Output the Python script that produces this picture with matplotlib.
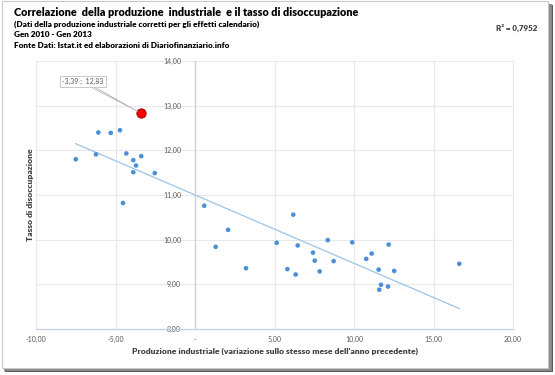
import numpy as np
import matplotlib
matplotlib.use("Agg")
import matplotlib.pyplot as plt
from matplotlib.patches import Rectangle

# ---- data ----
prod_ind = [-7.50, -6.23, -6.08, -5.30, -4.72, -4.32, -3.88, -3.71, -3.88, -3.38,
            -2.53, -4.53, 0.58, 1.30, 2.08, 3.21, 5.14, 5.81, 6.18, 6.33,
            6.46, 7.42, 7.53, 7.84, 8.35, 8.72, 9.89, 10.77, 11.11, 11.55,
            11.70, 11.59, 12.14, 12.18, 12.53, 16.62]
disocc = [11.80, 11.91, 12.40, 12.39, 12.45, 11.93, 11.78, 11.66, 11.51, 11.87,
          11.49, 10.82, 10.76, 9.84, 10.22, 9.36, 9.93, 9.34, 10.56, 9.22,
          9.87, 9.71, 9.53, 9.29, 9.99, 9.52, 9.94, 9.57, 9.69, 9.33,
          8.99, 8.88, 8.95, 9.89, 9.30, 9.46]
last_x = -3.39
last_y = 12.83
last_label = "-3,39 ;  12,83"
r2_label = "R² = 0,7952"

x_ticks = [-10, -5, 0, 5, 10, 15, 20]
x_ticklabels = ["-10,00", "-5,00", "-", "5,00", "10,00", "15,00", "20,00"]
y_ticks = [8, 9, 10, 11, 12, 13, 14]
y_ticklabels = ["8,00", "9,00", "10,00", "11,00", "12,00", "13,00", "14,00"]

title = "Correlazione  della produzione  industriale  e il tasso di disoccupazione"
subtitles = ["(Dati della produzione industriale corretti per gli effetti calendario)",
             "Gen 2010 - Gen 2013",
             "Fonte Dati: Istat.it ed elaborazioni di Diariofinanziario.info"]
xlabel = "Produzione industriale (variazione sullo stesso mese dell'anno precedente)"
ylabel = "Tasso di disoccupazione"

plt.rcParams['font.family'] = ['Lato', 'DejaVu Sans']

W, H = 555, 375
fig = plt.figure(figsize=(W / 100, H / 100), dpi=100)
fig.patch.set_facecolor('white')

def fx(px):
    return px / W

def fy(py):
    return 1 - py / H

# frame with drop shadow
fig.patches.append(Rectangle((fx(5), fy(372)), fx(548), 367 / H, transform=fig.transFigure,
                             facecolor='#5a5a5a', edgecolor='none', zorder=-3))
fig.patches.append(Rectangle((fx(4), fy(371)), fx(548), 367 / H, transform=fig.transFigure,
                             facecolor='#8a8a8a', edgecolor='none', zorder=-2))
fig.patches.append(Rectangle((fx(1.5), fy(368)), fx(546), 367 / H, transform=fig.transFigure,
                             facecolor='white', edgecolor='#c8c8c8', linewidth=0.8, zorder=-1))

left, right, top, bottom = 36, 513, 61, 329
ax = fig.add_axes([fx(left), fy(bottom), fx(right - left), (bottom - top) / H])
ax.set_zorder(1)
ax.set_facecolor('none')
ax.set_xlim(-10, 20)
ax.set_ylim(8, 14)
ax.set_xticks(x_ticks)
ax.set_xticklabels(x_ticklabels)
ax.set_yticks(y_ticks)
ax.set_yticklabels(y_ticklabels)
ax.tick_params(length=0, labelsize=5, labelcolor='#595959')
ax.tick_params(axis='y', pad=10)
ax.tick_params(axis='x', pad=5)
ax.grid(True, color='#e6e8ec', linewidth=0.8)
for g in ax.get_xgridlines() + ax.get_ygridlines():
    g.set_clip_on(False)
ax.set_axisbelow(True)
for s in ['top', 'right']:
    ax.spines[s].set_visible(False)
ax.spines['left'].set_position(('data', 0))
ax.spines['left'].set_color('#c5d0de')
ax.spines['left'].set_linewidth(0.9)
ax.spines['bottom'].set_color('#c5d0de')
ax.spines['bottom'].set_linewidth(0.9)

xs = np.array(prod_ind + [last_x])
ys = np.array(disocc + [last_y])
coef = np.polyfit(xs, ys, 1)
xl = np.array([xs.min(), xs.max()])
ax.plot(xl, np.polyval(coef, xl), color='#9dc3e6', linewidth=0.9, zorder=2)

ax.scatter(prod_ind, disocc, s=11, color='#4a8fd8', edgecolors='none', zorder=3)
ax.scatter([last_x], [last_y], s=45, color='#ff0000', edgecolors='#8b0000',
           linewidths=0.6, zorder=4)
ax.annotate(last_label, xy=(last_x, last_y), xytext=(-7.06, 13.54),
            fontsize=5, color='#595959', ha='center', va='center',
            bbox=dict(boxstyle='square,pad=0.3', fc='white', ec='#c8c8c8', lw=0.7),
            arrowprops=dict(arrowstyle='wedge,tail_width=0.25,shrink_factor=0.5',
                            fc='white', ec='#b5b5b5', lw=0.6, shrinkA=0, shrinkB=3),
            zorder=5)

# texts
fig.text(fx(14), fy(12), title, fontsize=7.8, fontweight='heavy', color='black',
         ha='left', va='center')
for i, s in enumerate(subtitles):
    fig.text(fx(14), fy(24 + 10.5 * i), s, fontsize=5.9, fontweight='heavy',
             color='black', ha='left', va='center')
fig.text(fx(537), fy(28), r2_label, fontsize=5.8, fontweight='heavy', color='#404040',
         ha='right', va='center')
fig.text(fx(31), fy(195), ylabel, fontsize=6.1, fontweight='heavy', color='#404040',
         rotation=90, ha='center', va='center')
fig.text(fx(275), fy(351), xlabel, fontsize=6.1, fontweight='heavy', color='#404040',
         ha='center', va='center')

fig.savefig('out.png', dpi=100)
